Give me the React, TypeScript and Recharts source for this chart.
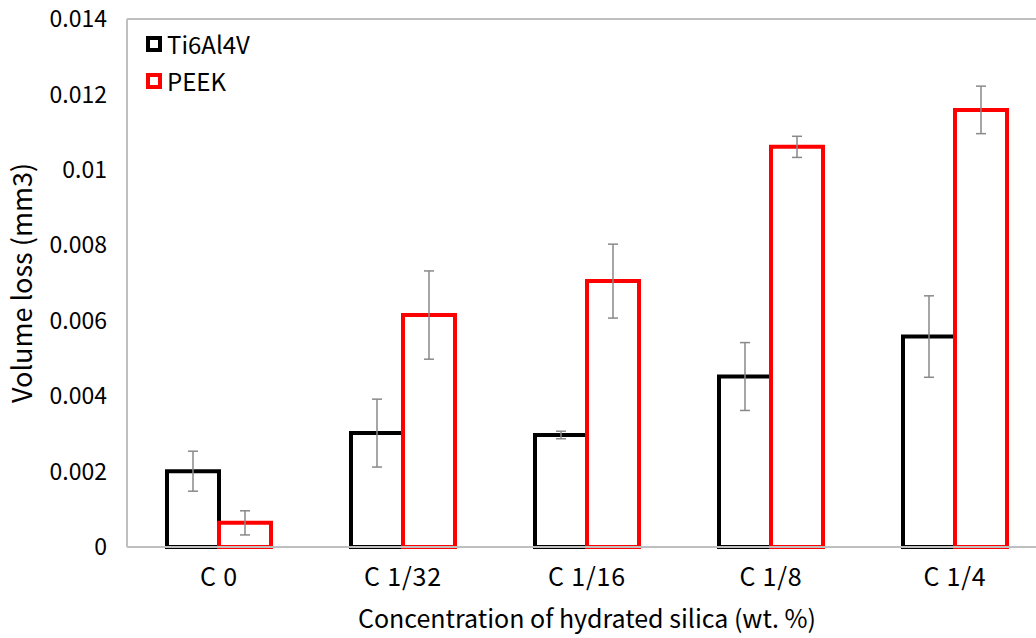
import { BarChart, Bar, XAxis, YAxis, ErrorBar, ReferenceLine } from 'recharts'

const categories = ['C 0', 'C 1/32', 'C 1/16', 'C 1/8', 'C 1/4']
const ti6al4v = [0.00201, 0.00302, 0.00297, 0.00452, 0.00558]
const ti6al4vErr = [0.00053, 0.0009, 0.0001, 0.0009, 0.00108]
const peek = [0.00064, 0.00615, 0.00705, 0.01061, 0.01159]
const peekErr = [0.00032, 0.00117, 0.00098, 0.00028, 0.00063]
const yTicks = [0, 0.002, 0.004, 0.006, 0.008, 0.01, 0.012, 0.014]

const series = [
  { key: 'ti', name: 'Ti6Al4V', color: '#000000' },
  { key: 'peek', name: 'PEEK', color: '#ff0000' },
]

const data = categories.map((c, i) => ({
  category: c,
  ti: ti6al4v[i],
  tiErr: ti6al4vErr[i],
  peek: peek[i],
  peekErr: peekErr[i],
}))

const FONT = '"Noto Sans CJK JP", "Noto Sans", sans-serif'
const AXIS_GRAY = '#bfbfbf'
const ERR_GRAY = '#898989'

// legend sits inside the plot, top-left; drawn as an overlay so recharts doesn't reserve space for it
function ChartLegend() {
  return (
    <div style={{ position: 'absolute', left: 146, top: 25, fontFamily: FONT, fontSize: 24, color: '#000' }}>
      {series.map(s => (
        <div key={s.key} style={{ display: 'flex', alignItems: 'center', height: 37 }}>
          <span
            style={{
              width: 8,
              height: 8,
              border: `4px solid ${s.color}`,
              background: '#fff',
              marginRight: 5,
              display: 'inline-block',
            }}
          />
          <span>{s.name}</span>
        </div>
      ))}
    </div>
  )
}

export default function App() {
  return (
    <div style={{ position: 'fixed', left: 0, top: 0, width: 1036, height: 638, overflow: 'hidden', background: '#fff' }}>
      <BarChart
        width={1050}
        height={638}
        data={data}
        margin={{ top: 19, right: 3, left: 0, bottom: 0 }}
        barGap={0}
        barSize={52}
      >
        <XAxis
          dataKey="category"
          height={91}
          tickLine={false}
          axisLine={{ stroke: AXIS_GRAY, strokeWidth: 2 }}
          tick={{ fontSize: 25, fill: '#000', fontFamily: FONT, letterSpacing: 0.8 }}
          tickMargin={15}
          label={{
            value: 'Concentration of hydrated silica (wt. %)',
            position: 'insideBottom',
            offset: 10,
            style: { fontSize: 25, fill: '#000', fontFamily: FONT },
          }}
        />
        <YAxis
          width={127}
          domain={[0, 0.014]}
          ticks={yTicks}
          interval={0}
          tickLine={false}
          axisLine={{ stroke: AXIS_GRAY, strokeWidth: 2 }}
          tick={{ fontSize: 23, fill: '#000', fontFamily: FONT }}
          tickMargin={14}
          label={{
            value: 'Volume loss (mm3)',
            angle: -90,
            position: 'insideLeft',
            offset: 22,
            style: { fontSize: 27, fill: '#000', fontFamily: FONT, textAnchor: 'middle' },
          }}
        />
        <ReferenceLine y={0.014} stroke={AXIS_GRAY} strokeWidth={2} />
        {series.map(s => (
          <Bar
            key={s.key}
            dataKey={s.key}
            name={s.name}
            fill="#ffffff"
            stroke={s.color}
            strokeWidth={4}
            isAnimationActive={false}
          >
            <ErrorBar dataKey={`${s.key}Err`} width={5} stroke={ERR_GRAY} strokeWidth={1.5} direction="y" />
          </Bar>
        ))}
      </BarChart>
      <ChartLegend />
    </div>
  )
}
